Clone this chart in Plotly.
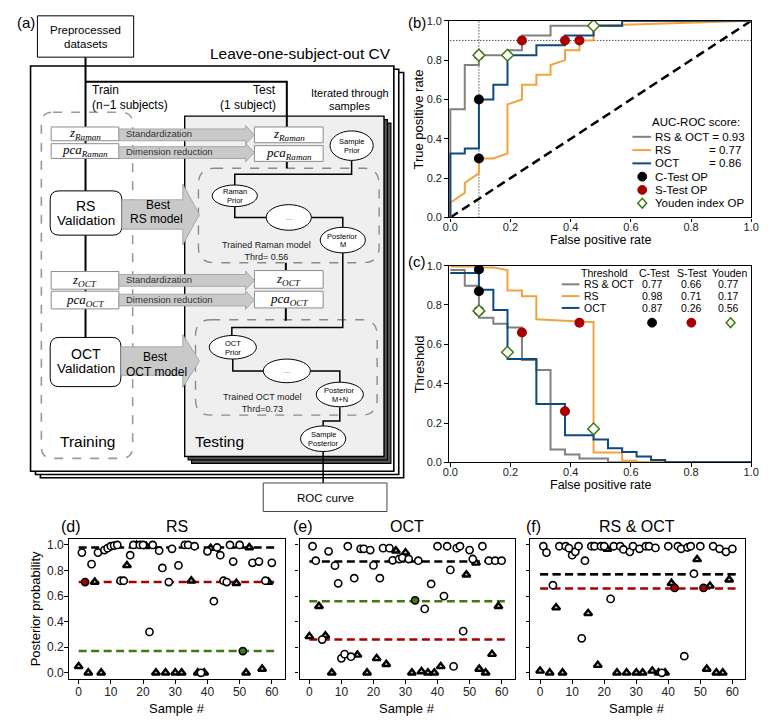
import plotly.graph_objects as go

W, H = 772, 727
FONT = "Liberation Sans, Arial, sans-serif"
SERIF = "Liberation Serif, Times New Roman, serif"

# ---------------- data ----------------
models = ["RS & OCT", "RS", "OCT"]
auc_scores = [0.93, 0.77, 0.86]
model_colors = ["#808080", "#f2a23e", "#0d4a82"]

# ROC curves (b)
roc_fpr_rsoct = [0, 0, 0.048, 0.048, 0.095, 0.095, 0.190, 0.190, 0.238, 0.238, 0.333, 0.333, 0.571, 0.571, 1.0]
roc_tpr_rsoct = [0, 0.55, 0.55, 0.775, 0.775, 0.825, 0.825, 0.85, 0.85, 0.925, 0.925, 0.975, 0.975, 1.0, 1.0]
roc_fpr_rs = [0, 0, 0.048, 0.048, 0.095, 0.095, 0.143, 0.190, 0.190, 0.238, 0.238, 0.286, 0.286, 0.333, 0.333,
              0.381, 0.381, 0.429, 0.429, 0.476, 0.476, 1.0]
roc_tpr_rs = [0, 0.075, 0.125, 0.175, 0.225, 0.30, 0.30, 0.325, 0.575, 0.60, 0.675, 0.675, 0.725, 0.725, 0.775,
              0.80, 0.85, 0.85, 0.90, 0.90, 0.975, 1.0]
roc_fpr_oct = [0, 0, 0.048, 0.048, 0.095, 0.095, 0.143, 0.143, 0.190, 0.190, 0.286, 0.286, 0.381, 0.381,
               0.476, 0.476, 0.571, 0.571, 1.0]
roc_tpr_oct = [0, 0.325, 0.325, 0.35, 0.35, 0.60, 0.60, 0.675, 0.675, 0.825, 0.825, 0.875, 0.875, 0.925,
               0.925, 0.975, 0.975, 1.0, 1.0]

# Threshold curves (c)
thr_fpr_rsoct = [0, 0.048, 0.048, 0.095, 0.095, 0.143, 0.143, 0.190, 0.190, 0.238, 0.238, 0.286, 0.286,
                 0.333, 0.333, 0.381, 0.381, 0.429, 0.429, 0.524, 0.524, 1.0]
thr_val_rsoct = [0.978, 0.978, 0.898, 0.898, 0.735, 0.735, 0.705, 0.705, 0.685, 0.685, 0.52, 0.52, 0.47,
                 0.47, 0.065, 0.065, 0.04, 0.04, 0.02, 0.02, 0.0, 0.0]
thr_fpr_rs = [0, 0.095, 0.095, 0.143, 0.190, 0.190, 0.238, 0.238, 0.286, 0.286, 0.381, 0.476, 0.476,
              0.571, 0.571, 0.619, 0.619, 1.0]
thr_val_rs = [0.995, 0.995, 0.99, 0.99, 0.978, 0.874, 0.874, 0.845, 0.845, 0.727, 0.72, 0.712, 0.05,
              0.05, 0.008, 0.008, 0.0, 0.0]
thr_fpr_oct = [0, 0.095, 0.095, 0.143, 0.143, 0.190, 0.190, 0.286, 0.286, 0.381, 0.381, 0.476, 0.476,
               0.524, 0.524, 0.571, 0.571, 0.619, 0.619, 0.667, 0.667, 0.714, 0.714, 1.0]
thr_val_oct = [0.962, 0.962, 0.877, 0.877, 0.775, 0.775, 0.526, 0.526, 0.296, 0.296, 0.138, 0.138, 0.116,
               0.116, 0.072, 0.072, 0.052, 0.052, 0.03, 0.03, 0.012, 0.012, 0.0, 0.0]

# operating points (order: RS & OCT, RS, OCT)
ctest_fpr = [0.095, 0.095, 0.095]
ctest_tpr = [0.825, 0.30, 0.60]
ctest_thr = [0.77, 0.98, 0.87]
stest_fpr = [0.238, 0.429, 0.381]
stest_tpr = [0.90, 0.90, 0.90]
stest_thr = [0.66, 0.71, 0.26]
youden_fpr = [0.095, 0.476, 0.190]
youden_tpr = [0.825, 0.975, 0.825]
youden_thr = [0.77, 0.17, 0.56]
spec_target_fpr = 0.095
sens_target_tpr = 0.90

# posterior probabilities per sample (d)-(f)
sample_ids = list(range(61))
negative_ids = [0, 3, 5, 7, 15, 18, 21, 24, 27, 30, 32, 35, 37, 39, 41, 49, 52, 53, 55, 57, 59]
post_rs = [0.05, 0.94, 0.71, 0.0, 0.85, 0.71, 0.94, 0.0, 0.96, 0.975, 0.99, 0.995, 1.0, 0.72, 0.72, 0.84,
           0.92, 1.0, 1.0, 1.0, 1.0, 0.99, 0.32, 1.0, 0.0, 0.955, 0.82, 0.0, 0.71, 0.97, 0.0, 0.84, 0.0,
           1.0, 1.0, 0.72, 0.99, 0.0, 0.0, 0.0, 0.95, 0.975, 0.56, 0.98, 0.92, 0.72, 0.71, 1.0, 0.87, 0.70,
           1.0, 0.17, 0.0, 0.98, 0.86, None, 0.87, 0.03, 0.72, 0.71, 0.86]
post_oct = [0.285, 0.99, 0.877, 0.52, 0.26, 0.29, 0.95, 0.0, 0.838, 0.70, 0.113, 0.146, 0.99, 0.126, 0.74,
            0.14, 0.97, 0.97, 0.0, 0.96, 0.84, 0.113, 0.74, 0.975, 0.067, 0.975, 0.88, 0.955, 0.89, 0.90,
            0.94, 0.89, 0.0, 0.567, 0.877, 0.01, 0.50, 0.0, 0.695, 0.0, 0.99, 0.05, 0.60, 0.99, 0.805,
            0.05, 0.975, 0.99, 0.326, 0.767, 0.96, 0.89, 0.86, 0.03, 0.99, 0.0, 0.877, 0.146, 0.877, 0.52,
            0.877]
post_rsoct = [0.015, 0.99, 0.94, 0.0, 0.685, 0.51, 0.99, 0.0, 0.99, 0.975, 0.92, 0.946, 0.99, 0.27, 0.877,
              0.465, 0.99, 0.99, 0.06, 0.99, 0.99, 0.967, 0.578, 0.99, 0.0, 0.99, 0.965, 0.0, 0.946, 0.99,
              0.0, 0.97, 0.0, 0.99, 0.99, 0.015, 0.977, 0.0, 0.0, 0.0, 0.99, 0.70, 0.664, 0.99, 0.97, 0.13,
              0.98, 0.99, 0.775, 0.887, 0.99, 0.664, 0.03, 0.68, 0.99, 0.0, 0.97, 0.0, 0.946, 0.728, 0.97]
# samples whose marker is filled with a threshold colour
hl_rs = {2: "stest", 51: "youden"}
hl_oct = {33: "youden"}
hl_rsoct = {42: "stest", 51: "stest"}
line_span = [0, 61]

C_BLACK = "#000000"
C_RED = "#a80000"
C_GREEN = "#3d7a12"

# ---------------- helpers ----------------
def px(x):
    return x / W

def py(y):
    return 1 - y / H

shapes, annotations = [], []

def add_rect(x0, y0, x1, y1, color="black", width=1.0, fill="white", dash="solid"):
    shapes.append(dict(type="rect", xref="paper", yref="paper", x0=px(x0), y0=py(y1), x1=px(x1), y1=py(y0),
                       line=dict(color=color, width=width, dash=dash), fillcolor=fill))

def add_rrect(x0, y0, x1, y1, r, color="black", width=1.0, fill="white", dash="solid"):
    path = (f"M{px(x0+r)},{py(y0)} L{px(x1-r)},{py(y0)} Q{px(x1)},{py(y0)} {px(x1)},{py(y0+r)} "
            f"L{px(x1)},{py(y1-r)} Q{px(x1)},{py(y1)} {px(x1-r)},{py(y1)} "
            f"L{px(x0+r)},{py(y1)} Q{px(x0)},{py(y1)} {px(x0)},{py(y1-r)} "
            f"L{px(x0)},{py(y0+r)} Q{px(x0)},{py(y0)} {px(x0+r)},{py(y0)} Z")
    shapes.append(dict(type="path", xref="paper", yref="paper", path=path,
                       line=dict(color=color, width=width, dash=dash), fillcolor=fill))

def add_poly(points, color="black", width=1.0, fill="rgba(0,0,0,0)", close=False):
    path = "M" + " L".join(f"{px(x)},{py(y)}" for x, y in points) + (" Z" if close else "")
    shapes.append(dict(type="path", xref="paper", yref="paper", path=path,
                       line=dict(color=color, width=width), fillcolor=fill))

def add_ellipse(cx, cy, rx, ry, color="black", fill="white", width=1.0):
    shapes.append(dict(type="circle", xref="paper", yref="paper", x0=px(cx-rx), x1=px(cx+rx),
                       y0=py(cy+ry), y1=py(cy-ry), line=dict(color=color, width=width), fillcolor=fill))

def add_text(x, y, s, size=12, color="black", xanchor="center", family=FONT, angle=0):
    annotations.append(dict(xref="paper", yref="paper", x=px(x), y=py(y), text=s, showarrow=False,
                            xanchor=xanchor, yanchor="middle", textangle=angle,
                            font=dict(size=size, color=color, family=family)))

def add_block_arrow(x0, x1, ym, shaft, hlen, hh, fill="#c9c9c9", edge="#9a9a9a"):
    pts = [(x0, ym-shaft/2), (x1-hlen, ym-shaft/2), (x1-hlen, ym-hh/2), (x1, ym),
           (x1-hlen, ym+hh/2), (x1-hlen, ym+shaft/2), (x0, ym+shaft/2)]
    add_poly(pts, color=edge, width=0.8, fill=fill, close=True)

# ---------------- panel (a): flowchart ----------------
for k in (2, 1, 0):
    add_rect(25+5*k, 61+3.3*k, 395+5*k, 473+3.3*k, color="black", width=1.6, fill="white")
add_rrect(36, 108, 129, 460, 12, color="#9a9a9a", width=1.6, fill="rgba(0,0,0,0)", dash="dash")
for k in (2, 1):
    add_rect(182+3.5*k, 112+3.5*k, 385+3.5*k, 458+3.5*k, color="black", width=1.2, fill="#555555")
add_rect(182, 112, 385, 458, color="black", width=1.4, fill="#efefef")
add_rrect(196, 165, 380, 261, 16, color="#8a8a8a", width=1.4, fill="rgba(0,0,0,0)", dash="dash")
add_rrect(193, 319, 378, 416, 16, color="#8a8a8a", width=1.4, fill="rgba(0,0,0,0)", dash="dash")

add_poly([(81, 52), (81, 337)], width=2)
add_poly([(81, 77), (286, 77), (286, 123)], width=2)
add_poly([(286, 158), (286, 165)], width=2)
add_poly([(285, 261), (285, 269)], width=2)
add_poly([(285, 307), (285, 320)], width=2)
add_poly([(352, 157), (352, 171), (233, 171), (233, 182)], width=1.5)
add_poly([(233, 204), (233, 215), (265, 215)], width=1.5)
add_poly([(311, 215), (343, 215), (343, 226)], width=1.5)
add_poly([(343, 251), (343, 327), (230, 327), (230, 336)], width=1.5)
add_poly([(231, 359), (231, 371), (262, 371)], width=1.5)
add_poly([(310, 371), (340, 371), (340, 383)], width=1.5)
add_poly([(340, 408), (340, 422), (323, 422), (323, 427)], width=1.5)
add_poly([(323, 453), (323, 485)], width=1.5)

add_rect(32, 10, 130, 52, color="black", width=1.0)
add_rect(262, 485, 388, 514, color="#444444", width=1.0)
for (x0, y0, x1, y1) in [(46, 123, 115, 137), (46, 140, 115, 155), (253, 123, 323, 139), (253, 142, 323, 158),
                         (46, 270, 115, 288), (46, 290, 115, 308), (253, 269, 323, 287), (253, 290, 323, 307)]:
    add_rect(x0, y0, x1, y1, color="#8c8c8c", width=1.0)
add_rrect(45, 188, 118, 233, 9, color="black", width=1.0)
add_rrect(45, 337, 117, 387, 9, color="black", width=1.0)

add_block_arrow(115, 253, 131, 12, 9, 19)
add_block_arrow(115, 253, 149, 12, 9, 19)
add_block_arrow(115, 253, 279, 12, 9, 19)
add_block_arrow(115, 253, 299, 12, 9, 19)
add_block_arrow(118, 197, 212, 30, 17, 62)
add_block_arrow(117, 197, 361, 29, 17, 54)

for (cx, cy, rx, ry) in [(352, 142, 22, 15), (233, 193, 23, 11), (288, 215, 23, 13), (343, 238, 23, 13),
                         (231, 347, 24, 12), (286, 371, 24, 12), (340, 395, 24, 12.5), (323, 440, 23, 13)]:
    add_ellipse(cx, cy, rx, ry)

add_text(20, 17, "(a)", size=15)
add_text(81, 24, "Preprocessed", size=11.5)
add_text(81, 39, "datasets", size=11.5)
add_text(394, 48, "Leave-one-subject-out CV", size=15.5, xanchor="right")
add_text(86, 85, "Train", size=12, xanchor="left")
add_text(86, 101, "(n\u22121 subjects)", size=12, xanchor="left")
add_text(277, 85, "Test", size=12, xanchor="right")
add_text(277, 101, "(1 subject)", size=12, xanchor="right")
add_text(350, 88, "Iterated through", size=11)
add_text(350, 102, "samples", size=11)
add_text(120, 130, "Standardization", size=9.5, color="#333333", xanchor="left")
add_text(120, 148, "Dimension reduction", size=9.5, color="#333333", xanchor="left")
add_text(120, 278, "Standardization", size=9.5, color="#333333", xanchor="left")
add_text(120, 298, "Dimension reduction", size=9.5, color="#333333", xanchor="left")
for (cx, cy, sub) in [(80, 130, "Raman"), (288, 131, "Raman"), (80, 279, "OCT"), (288, 278, "OCT")]:
    add_text(cx, cy, f"<i>z</i><sub><i>{sub}</i></sub>", size=13, family=SERIF)
for (cx, cy, sub) in [(80, 147, "Raman"), (288, 150, "Raman"), (80, 299, "OCT"), (288, 298, "OCT")]:
    add_text(cx, cy, f"<i>pca</i><sub><i>{sub}</i></sub>", size=13, family=SERIF)
add_text(81, 203, "RS", size=14)
add_text(81, 218, "Validation", size=13.5)
add_text(81, 354, "OCT", size=14)
add_text(81, 369, "Validation", size=13.5)
add_text(155, 202, "Best", size=12)
add_text(153, 217, "RS model", size=12)
add_text(152, 357, "Best", size=12)
add_text(153, 372, "OCT model", size=12)
add_text(352, 138, "Sample", size=7.5)
add_text(352, 147, "Prior", size=7.5)
add_text(233, 189, "Raman", size=7.5)
add_text(233, 198, "Prior", size=7.5)
add_text(288, 215, "...", size=7.5, color="#666666")
add_text(343, 234, "Posterior", size=7.5)
add_text(343, 243, "M", size=7.5)
add_text(231, 343, "OCT", size=7.5)
add_text(231, 352, "Prior", size=7.5)
add_text(286, 371, "...", size=7.5, color="#666666")
add_text(340, 391, "Posterior", size=7.5)
add_text(340, 400, "M+N", size=7.5)
add_text(323, 436, "Sample", size=7.5)
add_text(323, 445, "Posterior", size=7.5)
add_text(265, 249.5, "Trained Raman model<br>Thrd= 0.56", size=9, color="#222222")
add_text(261, 403.5, "Trained OCT model<br>Thrd=0.73", size=9, color="#222222")
add_text(83, 443, "Training", size=15.5)
add_text(190, 443, "Testing", size=15.5, xanchor="left")
add_text(325, 500, "ROC curve", size=11.5)

# ---------------- plotting panels ----------------
fig = go.Figure()

roc_curves = [(roc_fpr_rsoct, roc_tpr_rsoct), (roc_fpr_rs, roc_tpr_rs), (roc_fpr_oct, roc_tpr_oct)]
thr_curves = [(thr_fpr_rsoct, thr_val_rsoct), (thr_fpr_rs, thr_val_rs), (thr_fpr_oct, thr_val_oct)]

fig.add_trace(go.Scatter(x=[0, 1], y=[0, 1], mode="lines", line=dict(color="black", width=2.5, dash="9px,5px"),
                         xaxis="x", yaxis="y", showlegend=False, hoverinfo="skip"))
for (fx, ty), col in zip(roc_curves, model_colors):
    fig.add_trace(go.Scatter(x=fx, y=ty, mode="lines", line=dict(color=col, width=2),
                             xaxis="x", yaxis="y", showlegend=False))
fig.add_trace(go.Scatter(x=ctest_fpr, y=ctest_tpr, mode="markers", xaxis="x", yaxis="y", showlegend=False,
                         marker=dict(color=C_BLACK, size=10)))
fig.add_trace(go.Scatter(x=stest_fpr, y=stest_tpr, mode="markers", xaxis="x", yaxis="y", showlegend=False,
                         marker=dict(color=C_RED, size=10)))
fig.add_trace(go.Scatter(x=youden_fpr, y=youden_tpr, mode="markers", xaxis="x", yaxis="y", showlegend=False,
                         marker=dict(color="white", size=9, symbol="diamond", line=dict(color=C_GREEN, width=1.5))))

for (fx, tv), col in zip(thr_curves, model_colors):
    fig.add_trace(go.Scatter(x=fx, y=tv, mode="lines", line=dict(color=col, width=2),
                             xaxis="x2", yaxis="y2", showlegend=False))
fig.add_trace(go.Scatter(x=ctest_fpr, y=ctest_thr, mode="markers", xaxis="x2", yaxis="y2", showlegend=False,
                         marker=dict(color=C_BLACK, size=10)))
fig.add_trace(go.Scatter(x=stest_fpr, y=stest_thr, mode="markers", xaxis="x2", yaxis="y2", showlegend=False,
                         marker=dict(color=C_RED, size=10)))
fig.add_trace(go.Scatter(x=youden_fpr, y=youden_thr, mode="markers", xaxis="x2", yaxis="y2", showlegend=False,
                         marker=dict(color="white", size=9, symbol="diamond", line=dict(color=C_GREEN, width=1.5))))

shapes.append(dict(type="line", xref="x", yref="y", x0=spec_target_fpr, x1=spec_target_fpr, y0=0, y1=1,
                   line=dict(color="black", width=1, dash="1px,2px"), layer="below"))
shapes.append(dict(type="line", xref="x", yref="y", x0=0, x1=1, y0=sens_target_tpr, y1=sens_target_tpr,
                   line=dict(color="black", width=1, dash="1px,2px"), layer="below"))

hl_colors = {"stest": C_RED, "youden": C_GREEN, "ctest": C_BLACK}
panels = [("x3", "y3", post_rs, hl_rs, 1), ("x4", "y4", post_oct, hl_oct, 2), ("x5", "y5", post_rsoct, hl_rsoct, 0)]
for xa, ya, post, hl, mi in panels:
    for thr, col in [(youden_thr[mi], C_GREEN), (stest_thr[mi], C_RED), (ctest_thr[mi], C_BLACK)]:
        fig.add_trace(go.Scatter(x=line_span, y=[thr, thr], mode="lines", xaxis=xa, yaxis=ya, showlegend=False,
                                 line=dict(color=col, width=2.5, dash="8px,4.5px")))
    pos_x = [s for s in sample_ids if s not in negative_ids and post[s] is not None]
    neg_x = [s for s in sample_ids if s in negative_ids and post[s] is not None]
    fig.add_trace(go.Scatter(x=neg_x, y=[post[s] for s in neg_x], mode="markers", xaxis=xa, yaxis=ya,
                             showlegend=False,
                             marker=dict(symbol="triangle-up", size=7, color="#cccccc",
                                         line=dict(color="black", width=2.4))))
    fig.add_trace(go.Scatter(x=pos_x, y=[post[s] for s in pos_x], mode="markers", xaxis=xa, yaxis=ya,
                             showlegend=False,
                             marker=dict(symbol="circle", size=7.2,
                                         color=[hl_colors[hl[s]] if s in hl else "white" for s in pos_x],
                                         line=dict(color="black", width=1.6))))

# ---------------- legends ----------------
add_text(750, 118, "AUC-ROC score:", size=11.5, xanchor="right")
rows_b = [133, 146.5, 160]
for yy, name, auc, col in zip(rows_b, models, auc_scores, model_colors):
    shapes.append(dict(type="line", xref="paper", yref="paper", x0=px(638), x1=px(657), y0=py(yy), y1=py(yy),
                       line=dict(color=col, width=2)))
    if name == "RS & OCT":
        add_text(659, yy, f"{name} = {auc:.2f}", size=11.5, xanchor="left")
    else:
        add_text(659, yy, name, size=11.5, xanchor="left")
        add_text(751, yy, f"= {auc:.2f}", size=11.5, xanchor="right")
add_ellipse(648, 173.5, 4.5, 4.5, color=C_BLACK, fill=C_BLACK)
add_text(659, 173.5, "C-Test OP", size=11.5, xanchor="left")
add_ellipse(648, 187, 4.5, 4.5, color=C_RED, fill=C_RED)
add_text(659, 187, "S-Test OP", size=11.5, xanchor="left")
add_poly([(648, 195.5), (652.5, 200.5), (648, 205.5), (643.5, 200.5)], color=C_GREEN, width=1.5, fill="white", close=True)
add_text(659, 200.5, "Youden index OP", size=11.5, xanchor="left")

add_text(610, 271, "Threshold", size=10.5)
add_text(660, 271, "C-Test", size=10.5)
add_text(699, 271, "S-Test", size=10.5)
add_text(737, 271, "Youden", size=10.5)
rows_c = [283, 295, 307]
for i, (yy, name, col) in enumerate(zip(rows_c, models, model_colors)):
    shapes.append(dict(type="line", xref="paper", yref="paper", x0=px(566), x1=px(584), y0=py(yy), y1=py(yy),
                       line=dict(color=col, width=2)))
    add_text(587, yy, name, size=10.5, xanchor="left")
    add_text(658, yy, f"{ctest_thr[i]:.2f}", size=10.5)
    add_text(698, yy, f"{stest_thr[i]:.2f}", size=10.5)
    add_text(736, yy, f"{youden_thr[i]:.2f}", size=10.5)
add_ellipse(658, 322, 4.5, 4.5, color=C_BLACK, fill=C_BLACK)
add_ellipse(698, 322, 4.5, 4.5, color=C_RED, fill=C_RED)
add_poly([(738, 317), (742.5, 322), (738, 327), (733.5, 322)], color=C_GREEN, width=1.5, fill="white", close=True)

add_text(419, 17, "(b)", size=15)
add_text(419, 260, "(c)", size=15)
add_text(420, 115, "True positive rate", size=13, angle=-90)
add_text(605, 238, "False positive rate", size=12.5)
add_text(422, 364, "Threshold", size=13, angle=-90)
add_text(605, 487, "False positive rate", size=12.5)
add_text(30, 613, "Posterior probability", size=13, angle=-90)
for cx, ttl, lab, lx in [(174, "RS", "(d)", 66), (408, "OCT", "(e)", 302), (643, "RS & OCT", "(f)", 537)]:
    add_text(cx, 529, ttl, size=16)
    add_text(lx, 529, lab, size=16)
    add_text(cx, 714, "Sample #", size=13)

# ---------------- axes ----------------
def dom_x(a, b):
    return [a / W, b / W]

def dom_y(top, bottom):
    return [1 - bottom / H, 1 - top / H]

axis_common = dict(showline=True, mirror=True, linecolor="black", linewidth=1.3, ticks="outside", ticklen=3.5,
                   tickcolor="black", tickwidth=1, showgrid=False, zeroline=False,
                   tickfont=dict(size=11, color="#222222", family=FONT))
frac_ticks = [0, 0.2, 0.4, 0.6, 0.8, 1.0]
d_common = dict(axis_common, tickfont=dict(size=12, color="#222222", family=FONT), ticklabelstandoff=-2)

layout = dict(
    width=W, height=H, autosize=False, margin=dict(l=0, r=0, t=0, b=0),
    paper_bgcolor="white", plot_bgcolor="white", showlegend=False,
    font=dict(family=FONT, color="black"),
    xaxis=dict(axis_common, domain=dom_x(451, 759), range=[-0.005, 1.0], tickvals=frac_ticks, tickformat=".1f",
               anchor="y", ticklabelstandoff=-4),
    yaxis=dict(axis_common, domain=dom_y(15, 215), range=[0, 1.0], tickvals=frac_ticks, tickformat=".1f", anchor="x"),
    xaxis2=dict(axis_common, domain=dom_x(451, 759), range=[-0.005, 1.0], tickvals=frac_ticks, tickformat=".1f",
                anchor="y2", ticklabelstandoff=-4),
    yaxis2=dict(axis_common, domain=dom_y(264, 464), range=[0, 1.0], tickvals=frac_ticks, tickformat=".1f", anchor="x2"),
    xaxis3=dict(d_common, domain=dom_x(64, 284), range=[-3.05, 64.05], tickvals=[0, 10, 20, 30, 40, 50, 60], anchor="y3"),
    yaxis3=dict(d_common, domain=dom_y(541.5, 684.5), range=[-0.05, 1.05], tickvals=frac_ticks, tickformat=".1f", anchor="x3"),
    xaxis4=dict(d_common, domain=dom_x(299, 518), range=[-3.05, 64.05], tickvals=[0, 10, 20, 30, 40, 50, 60], anchor="y4"),
    yaxis4=dict(d_common, domain=dom_y(541.5, 684.5), range=[-0.05, 1.05], tickvals=frac_ticks, showticklabels=False, anchor="x4"),
    xaxis5=dict(d_common, domain=dom_x(534, 753), range=[-3.05, 64.05], tickvals=[0, 10, 20, 30, 40, 50, 60], anchor="y5"),
    yaxis5=dict(d_common, domain=dom_y(541.5, 684.5), range=[-0.05, 1.05], tickvals=frac_ticks, showticklabels=False, anchor="x5"),
    shapes=shapes, annotations=annotations,
)
fig.update_layout(**layout)
fig.write_html(
    "out.html",
    config={"displayModeBar": False, "responsive": False},
    post_script=("var d=document.documentElement, b=document.body;"
                 "d.style.margin='0px'; b.style.margin='0px'; b.style.padding='0px';"
                 "d.style.width='772px'; d.style.height='727px'; b.style.width='772px'; b.style.height='727px';"
                 "d.style.overflow='hidden'; b.style.overflow='hidden';"),
)
